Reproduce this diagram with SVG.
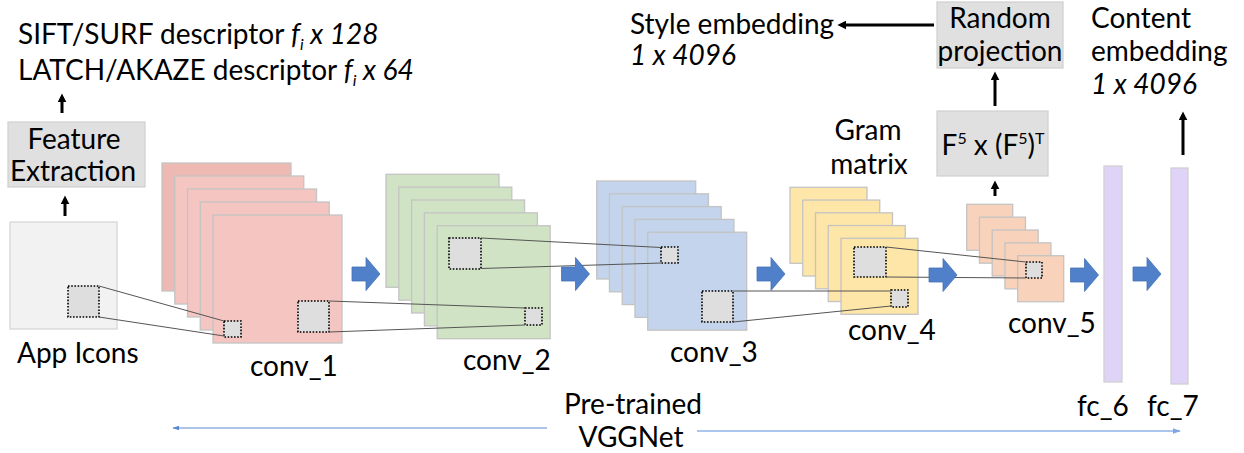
<svg xmlns="http://www.w3.org/2000/svg" width="1244" height="453" viewBox="0 0 1244 453">
<style>
  text { font-family: Lato, "Open Sans", sans-serif; font-size: 28px; fill: #000; }
  .it { font-style: italic; }
  .mid { text-anchor: middle; }
  .box { fill: #e0e0e0; stroke: #cfcfcf; stroke-width: 1.2; }
  .pl { stroke: #c4c4c4; stroke-width: 1.3; }
  .c1 { fill: #f4c5c1; } .c1b { fill: #efb9b3; }
  .c2 { fill: #d0e3c4; }
  .c3 { fill: #c3d4ec; }
  .c4 { fill: #fee6a8; }
  .c5 { fill: #f9d2bb; }
  .fc { fill: #e0d3f8; stroke: #d0d0d0; stroke-width: 1.3; }
  .dot { fill: #dedede; stroke: #000; stroke-width: 1.6; stroke-dasharray: 1.6 1.6; }
  .ln { stroke: #555; stroke-width: 1; fill: none; }
  .blk { fill: #4f80c9; stroke: #4572b5; stroke-width: 0.8; }
  .up { stroke: #000; stroke-width: 3; fill: none; marker-end: url(#ah); }
</style>
<defs>
  <marker id="ah" viewBox="0 0 10 10" refX="6" refY="5" markerWidth="3" markerHeight="3" orient="auto" markerUnits="strokeWidth">
    <path d="M0,0 L10,5 L0,10 z" fill="#000"/>
  </marker>
  <marker id="bh" viewBox="0 0 10 10" refX="9" refY="5" markerWidth="7" markerHeight="7" orient="auto" markerUnits="userSpaceOnUse">
    <path d="M0,1.5 L10,5 L0,8.5 z" fill="#5a8ad0"/>
  </marker>
  <marker id="bh2" viewBox="0 0 10 10" refX="9" refY="5" markerWidth="8" markerHeight="8" orient="auto" markerUnits="userSpaceOnUse">
    <path d="M0,1.5 L10,5 L0,8.5 z" fill="#7ea6e0"/>
  </marker>
  <path id="barrow" d="M0,-7 L14,-7 L14,-16.5 L28,0 L14,16.5 L14,7 L0,7 z"/>
</defs>

<g id="descriptors">
  <text x="18" y="44" font-size="24.5">SIFT/SURF descriptor <tspan class="it">f</tspan><tspan class="it" font-size="16" dy="6">i</tspan><tspan class="it" dy="-6"> x 128</tspan></text>
  <text x="18" y="80" font-size="24.5">LATCH/AKAZE descriptor <tspan class="it">f</tspan><tspan class="it" font-size="16" dy="6">i</tspan><tspan class="it" dy="-6"> x 64</tspan></text>
</g>

<g id="feature-extraction">
  <rect class="box" x="8" y="122" width="137" height="65"/>
  <text class="mid" x="74" y="149" font-size="26.5">Feature</text>
  <text class="mid" x="73" y="181" font-size="26.5">Extraction</text>
</g>

<g id="app-icons">
  <rect x="10" y="222" width="107" height="107" fill="#f2f2f2" stroke="#d6d6d6" stroke-width="1.3"/>
  <rect class="dot" x="68" y="286" width="31" height="31"/>
  <text x="17" y="363">App Icons</text>
</g>

<g id="conv_1">
  <rect class="pl c1b" x="162" y="163" width="129" height="128"/>
  <rect class="pl c1" x="174.75" y="176" width="129" height="128"/>
  <rect class="pl c1" x="187.5" y="189" width="129" height="128"/>
  <rect class="pl c1" x="200.25" y="202" width="129" height="128"/>
  <rect class="pl c1" x="213" y="215" width="129" height="128"/>
  <rect class="dot" x="224" y="321" width="17" height="16"/>
  <rect class="dot" x="298" y="301" width="31" height="31"/>
  <text x="250" y="376">conv_1</text>
</g>

<g id="conv_2">
  <rect class="pl c2" x="386" y="174.3" width="113" height="113"/>
  <rect class="pl c2" x="398.8" y="187.15" width="113" height="113"/>
  <rect class="pl c2" x="411.6" y="200" width="113" height="113"/>
  <rect class="pl c2" x="424.4" y="212.85" width="113" height="113"/>
  <rect class="pl c2" x="437.2" y="225.7" width="113" height="113"/>
  <rect class="dot" x="449" y="238" width="32" height="31"/>
  <rect class="dot" x="525" y="308" width="17" height="17"/>
  <text x="463" y="370">conv_2</text>
</g>

<g id="conv_3">
  <rect class="pl c3" x="596.7" y="181" width="99" height="98"/>
  <rect class="pl c3" x="609.45" y="193.8" width="99" height="98"/>
  <rect class="pl c3" x="622.2" y="206.6" width="99" height="98"/>
  <rect class="pl c3" x="634.95" y="219.4" width="99" height="98"/>
  <rect class="pl c3" x="647.7" y="232.2" width="99" height="98"/>
  <rect class="dot" x="661" y="247" width="17" height="16"/>
  <rect class="dot" x="702" y="291" width="31" height="31"/>
  <text x="670" y="362">conv_3</text>
</g>

<g id="conv_4">
  <rect class="pl c4" x="790" y="187.3" width="77" height="76"/>
  <rect class="pl c4" x="802.75" y="200.05" width="77" height="76"/>
  <rect class="pl c4" x="815.5" y="212.8" width="77" height="76"/>
  <rect class="pl c4" x="828.25" y="225.55" width="77" height="76"/>
  <rect class="pl c4" x="841" y="238.3" width="77" height="76"/>
  <rect class="dot" x="854" y="247" width="32" height="30"/>
  <rect class="dot" x="891" y="290" width="17" height="17"/>
  <text x="848" y="340">conv_4</text>
</g>

<g id="gram-label">
  <text class="mid" x="868" y="140" font-size="25.5">Gram</text>
  <text class="mid" x="869" y="174" font-size="25.5">matrix</text>
</g>

<g id="conv_5">
  <rect class="pl c5" x="966.7" y="204.3" width="46" height="46"/>
  <rect class="pl c5" x="979.45" y="217.15" width="46" height="46"/>
  <rect class="pl c5" x="992.2" y="230" width="46" height="46"/>
  <rect class="pl c5" x="1004.95" y="242.85" width="46" height="46"/>
  <rect class="pl c5" x="1017.7" y="255.7" width="46" height="46"/>
  <rect class="dot" x="1026" y="262" width="16" height="16"/>
  <text x="1008" y="333">conv_5</text>
</g>

<g id="gram-box">
  <rect class="box" x="937" y="111" width="111" height="65"/>
  <text class="mid" x="993" y="155" font-size="27">F<tspan font-size="16" dy="-11">5</tspan><tspan dy="11"> x (F</tspan><tspan font-size="16" dy="-11">5</tspan><tspan dy="11">)</tspan><tspan font-size="16" dy="-11">T</tspan></text>
</g>

<g id="random-projection">
  <rect class="box" x="937" y="2" width="126" height="66"/>
  <text class="mid" x="1000" y="28" font-size="27">Random</text>
  <text class="mid" x="1000" y="61" font-size="27">projection</text>
</g>

<g id="style-embedding">
  <text x="630" y="34">Style embedding</text>
  <text class="it" x="630" y="65">1 x 4096</text>
</g>

<g id="content-embedding">
  <text x="1091" y="28">Content</text>
  <text x="1091" y="61">embedding</text>
  <text class="it" x="1091" y="94">1 x 4096</text>
</g>

<g id="fc_6">
  <rect class="fc" x="1104" y="166" width="18" height="216"/>
  <text x="1077" y="416">fc_6</text>
</g>

<g id="fc_7">
  <rect class="fc" x="1171" y="168" width="17" height="216"/>
  <text x="1147" y="416">fc_7</text>
</g>

<g id="vggnet-label">
  <text class="mid" x="633" y="414" font-size="29">Pre-trained</text>
  <text class="mid" x="631" y="447" font-size="29">VGGNet</text>
</g>

<g id="connectors">
  <line class="ln" x1="99" y1="286" x2="224" y2="321"/>
  <line class="ln" x1="99" y1="317" x2="224" y2="336"/>
  <line class="ln" x1="329" y1="301" x2="525" y2="308"/>
  <line class="ln" x1="329" y1="332" x2="525" y2="325"/>
  <line class="ln" x1="481" y1="238" x2="661" y2="247.5"/>
  <line class="ln" x1="481" y1="268.5" x2="661" y2="263"/>
  <line class="ln" x1="733" y1="291" x2="891" y2="291"/>
  <line class="ln" x1="733" y1="322" x2="891" y2="306"/>
  <line class="ln" x1="886" y1="247" x2="1026" y2="262"/>
  <line class="ln" x1="886" y1="277" x2="1026" y2="278"/>

  <use href="#barrow" class="blk" x="352" y="274"/>
  <use href="#barrow" class="blk" x="561.5" y="274"/>
  <use href="#barrow" class="blk" x="757" y="274"/>
  <use href="#barrow" class="blk" x="929" y="275"/>
  <use href="#barrow" class="blk" x="1070.5" y="275"/>
  <use href="#barrow" class="blk" x="1133" y="274"/>

  <line class="up" x1="65" y1="216" x2="65" y2="199"/>
  <line class="up" x1="62" y1="113" x2="62" y2="97"/>
  <line class="up" x1="995" y1="196" x2="995" y2="184"/>
  <line class="up" x1="995" y1="106" x2="995" y2="75"/>
  <line class="up" x1="934" y1="25" x2="841" y2="25"/>
  <line class="up" x1="1183" y1="155" x2="1183" y2="115"/>

  <line x1="547" y1="428" x2="173" y2="428" stroke="#5a8ad0" stroke-width="1.2" marker-end="url(#bh)"/>
  <line x1="697" y1="431" x2="1180" y2="431" stroke="#8fb3e8" stroke-width="1.6" marker-end="url(#bh2)"/>
</g>
</svg>
